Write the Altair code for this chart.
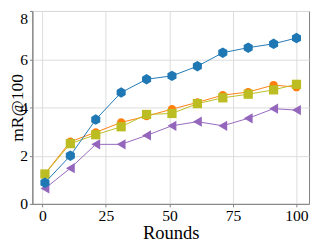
import altair as alt
import pandas as pd

rounds = [1, 11, 21, 31, 41, 51, 61, 71, 81, 91, 100]
blue_vals = [0.88, 2.0, 3.5, 4.62, 5.17, 5.31, 5.71, 6.27, 6.48, 6.64, 6.88]
orange_vals = [1.25, 2.58, 2.97, 3.38, 3.64, 3.93, 4.21, 4.51, 4.64, 4.93, 4.84]
olive_vals = [1.24, 2.5, 2.87, 3.2, 3.71, 3.75, 4.16, 4.4, 4.55, 4.73, 4.96]
purple_vals = [0.64, 1.48, 2.47, 2.47, 2.84, 3.24, 3.41, 3.24, 3.55, 3.95, 3.89]

x_ticks = [0, 25, 50, 75, 100]
y_ticks = [0, 2, 4, 6, 8]

HEX = "M0,-1L0.866,-0.5L0.866,0.5L0,1L-0.866,0.5L-0.866,-0.5Z"
FONT = "Liberation Serif"

series = [
    ("orange", orange_vals, "#ff7f0e", "circle", 72),
    ("olive", olive_vals, "#bcbd22", "square", 90),
    ("purple", purple_vals, "#9467bd", "triangle-left", 110),
    ("blue", blue_vals, "#1f77b4", HEX, 115),
]

xs = alt.Scale(domain=[-3.95, 104.95], nice=False, zero=False)
ys = alt.Scale(domain=[0, 8], nice=False)

x_axis = alt.Axis(
    values=x_ticks, title="Rounds", grid=True, gridColor="#dcdcdc",
    domainColor="#808080", tickColor="#808080", tickSize=3,
    labelPadding=1, labelFontSize=16, titleFontSize=19, titleFontWeight="normal",
    titlePadding=0, labelColor="black", titleColor="black",
    labelFont=FONT, titleFont=FONT,
)
y_axis = alt.Axis(
    values=y_ticks, title="mR@100", grid=True, gridColor="#dcdcdc",
    domainColor="#808080", tickColor="#808080", tickSize=3,
    labelPadding=2, labelFontSize=16, titleFontSize=18, titleFontWeight="normal",
    titleX=-10.5, titleBaseline="alphabetic", labelColor="black", titleColor="black",
    labelFont=FONT, titleFont=FONT,
    labelBaseline={"condition": {"test": "datum.value === 8", "value": "top"}, "value": "middle"},
)

layers = []
for name, vals, color, shape, size in series:
    df = pd.DataFrame({"x": rounds, "y": vals})
    xenc = alt.X("x:Q", scale=xs, axis=x_axis)
    yenc = alt.Y("y:Q", scale=ys, axis=y_axis)
    line = alt.Chart(df).mark_line(color=color, strokeWidth=1).encode(x=xenc, y=yenc)
    pts = alt.Chart(df).mark_point(
        color=color, filled=True, opacity=1, shape=shape, size=size
    ).encode(x=xenc, y=yenc)
    layers += [line, pts]

chart = alt.layer(*layers).properties(
    width=284, height=198,
    autosize=alt.AutoSizeParams(type="none"),
    padding={"left": 25, "top": 0, "right": 2, "bottom": 36},
).configure(
    font=FONT
).configure_axis(
    labelFont=FONT, titleFont=FONT
).configure_view(
    stroke="#808080", strokeWidth=1
)

chart.save("out.html", embed_options={"renderer": "svg", "actions": False})
